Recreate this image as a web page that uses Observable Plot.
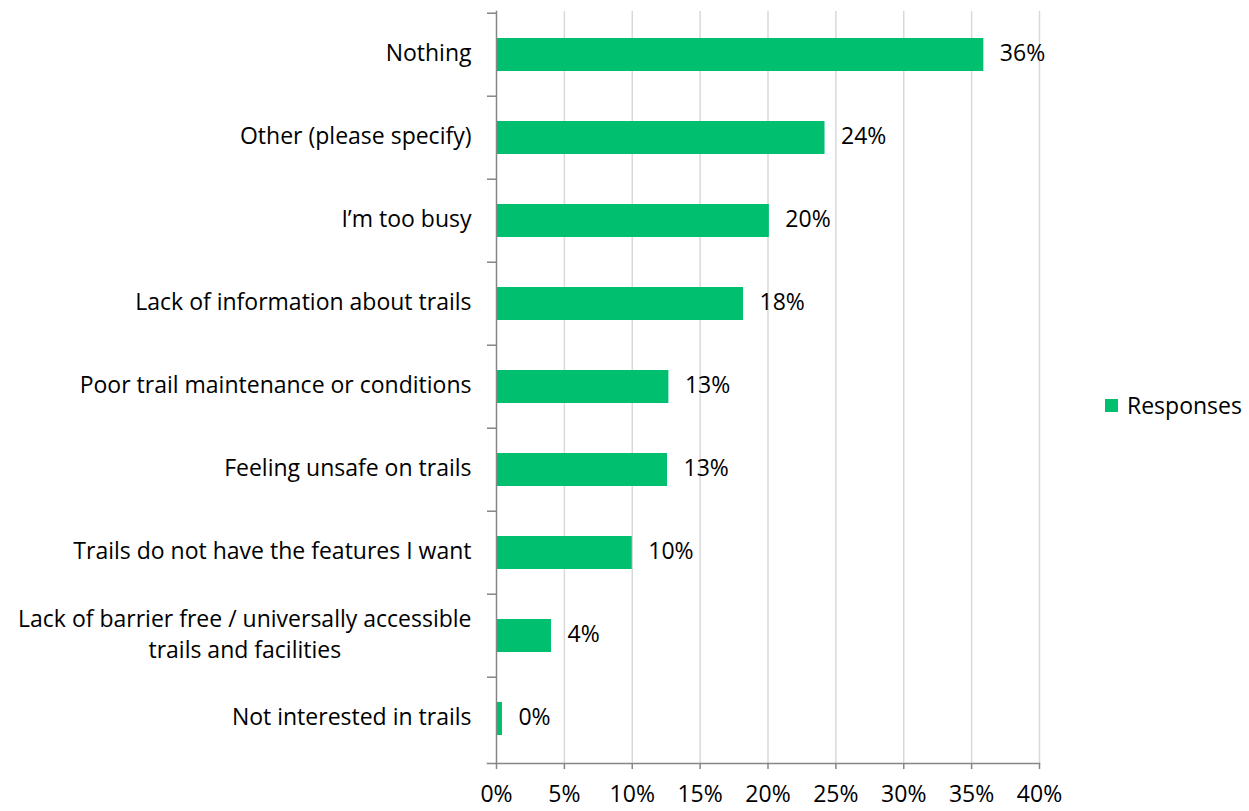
<!DOCTYPE html>
<html>
<head>
<meta charset="utf-8">
<script src="https://cdn.jsdelivr.net/npm/d3@7"></script>
<script src="https://cdn.jsdelivr.net/npm/@observablehq/plot@0.6"></script>
<style>
  html, body { margin: 0; padding: 0; background: #fff; }
  #wrap { position: relative; width: 1249px; height: 811px; }
  #legend { position: absolute; left: 1105px; top: 389px; font: 23px "Open Sans", sans-serif; color: #000; display: flex; align-items: center; }
  #legend .sw { width: 13px; height: 13px; background: #00BF6F; margin-right: 9px; }
</style>
</head>
<body>
<div id="wrap">
  <div id="chart"></div>
  <div id="legend"><div class="sw"></div><span>Responses</span></div>
</div>
<script>
const categories = [
  "Nothing",
  "Other (please specify)",
  "I\u2019m too busy",
  "Lack of information about trails",
  "Poor trail maintenance or conditions",
  "Feeling unsafe on trails",
  "Trails do not have the features I want",
  "Lack of barrier free / universally accessible\ntrails and facilities",
  "Not interested in trails"
];
const values = [0.359, 0.242, 0.201, 0.182, 0.127, 0.126, 0.100, 0.0405, 0.0044];
const xTicks = [0, 0.05, 0.10, 0.15, 0.20, 0.25, 0.30, 0.35, 0.40];
const seriesName = "Responses";

const data = categories.map((c, i) => ({category: c, value: values[i]}));
const FONT = "'Open Sans', sans-serif";
const FS = 23;
const GREEN = "#00BF6F";
const AXIS = "#868686";

const W = 1249, H = 811;
const mL = 496, mR = 210, mT = 11, mB = 48;
const step = (H - mT - mB) / categories.length;
const LABEL_GAP = 25;
const LINE_H = 31;

const ctx = document.createElement("canvas").getContext("2d");
ctx.font = `${FS}px Open Sans`;

// two-line labels: first line right-aligned, second centred under the first
const multiMarks = categories.filter(c => c.includes("\n")).flatMap(c => {
  const [a, b] = c.split("\n");
  const w = ctx.measureText(a).width;
  return [
    Plot.text([c], {y: d => d, frameAnchor: "left", text: () => a, textAnchor: "end",
      dx: -LABEL_GAP, dy: -LINE_H / 2 - 1, fontSize: FS, fill: "#000"}),
    Plot.text([c], {y: d => d, frameAnchor: "left", text: () => b, textAnchor: "middle",
      dx: -LABEL_GAP - w / 2, dy: LINE_H / 2 - 1, fontSize: FS, fill: "#000"})
  ];
});

const plot = Plot.plot({
  width: W, height: H,
  marginLeft: mL, marginRight: mR, marginTop: mT, marginBottom: mB,
  style: {fontFamily: FONT, fontSize: FS + "px", color: "#000", background: "#fff"},
  x: {domain: [0, 0.4], ticks: xTicks, tickFormat: d3.format(".0%"), label: null},
  y: {domain: categories, paddingInner: 0.6, paddingOuter: 0.3, label: null},
  marks: [
    Plot.gridX(xTicks.filter(d => d > 0), {stroke: "#D9D9D9", strokeOpacity: 1, strokeWidth: 1.5}),
    Plot.barX(data, {y: "category", x: "value", fill: GREEN}),
    Plot.text(data, {y: "category", x: "value", text: d => d3.format(".0%")(d.value), textAnchor: "start", dx: 16, dy: -1, fontSize: FS, fill: "#000"}),
    Plot.frame({anchor: "left", stroke: AXIS, strokeWidth: 1.5}),
    Plot.frame({anchor: "bottom", stroke: AXIS, strokeWidth: 1.5, insetLeft: -9}),
    Plot.axisX({ticks: xTicks, tickSize: 6, tickPadding: 16, stroke: AXIS, strokeWidth: 1.5, tickFormat: d3.format(".0%"), fontSize: FS, fill: "#000", label: null}),
    Plot.axisY({tickSize: 9, stroke: AXIS, strokeWidth: 1.5, dy: -step / 2, tickFormat: () => "", label: null}),
    Plot.axisY({tickSize: 0, tickPadding: LABEL_GAP, dy: -1, fontSize: FS, fill: "#000", tickFormat: d => d.includes("\n") ? "" : d, label: null}),
    ...multiMarks
  ]
});
document.getElementById("chart").appendChild(plot);
</script>
</body>
</html>
